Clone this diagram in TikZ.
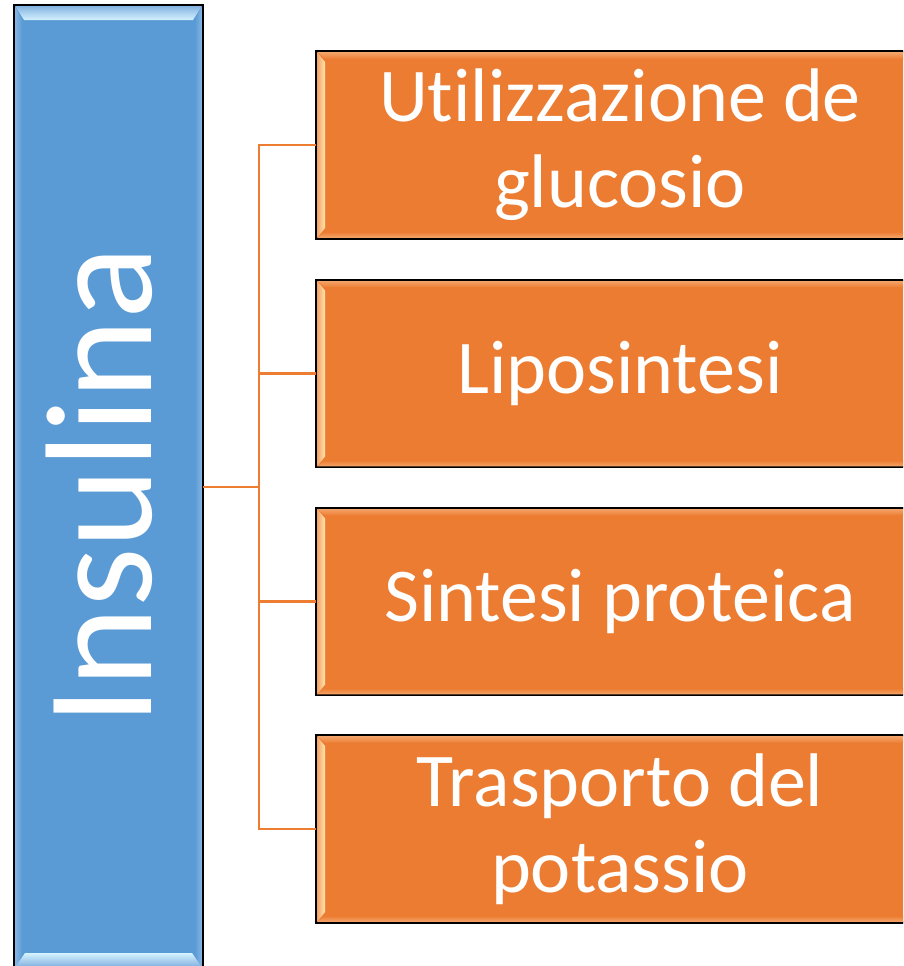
\documentclass[tikz,border=0pt]{standalone}
\usepackage{fontspec}
\setmainfont{Carlito}[Ligatures={NoCommon,NoRare,NoContextual},RawFeature={-liga;-clig;-dlig;-calt}]
\definecolor{insblue}{HTML}{5B9BD5}
\definecolor{insblueL}{HTML}{86B4E1}
\definecolor{insblueH}{HTML}{D6F3FF}
\definecolor{effor}{HTML}{EC7C31}
\definecolor{efforL}{HTML}{F4A56B}
\definecolor{efforH}{HTML}{FFE7AE}
\definecolor{linkor}{HTML}{ED7D31}
\tikzset{
  hormbox/.style={rectangle, fill=insblue, draw=black, line width=1.6pt,
    minimum width=187pt, minimum height=970pt, inner sep=0pt},
  effbox/.style={rectangle, fill=effor, draw=black, line width=1.6pt,
    minimum width=606pt, minimum height=186pt, inner sep=0pt,
    text=white, align=center, font=\fontsize{76}{86}\selectfont},
  hormtext/.style={text=white, font=\fontsize{152}{180}\selectfont, inner sep=0pt},
  linkline/.style={draw=linkor, line width=2.5pt},
  rimline/.style={draw=black, line width=1.6pt}
}
\newcommand{\orbevel}[1]{%
  \shade[left color=efforL, right color=efforH]
    ([xshift=1pt,yshift=-1pt]#1.north west) -- ([xshift=9pt,yshift=-11pt]#1.north west)
    -- ([xshift=9pt,yshift=11pt]#1.south west) -- ([xshift=1pt,yshift=1pt]#1.south west) -- cycle;
  \shade[top color=efforL, bottom color=effor]
    ([xshift=1pt,yshift=-1pt]#1.north west) -- ([yshift=-1pt]#1.north east)
    -- ([yshift=-8pt]#1.north east) -- ([xshift=9pt,yshift=-8pt]#1.north west) -- cycle;
  \shade[top color=effor, bottom color=efforL]
    ([xshift=9pt,yshift=7pt]#1.south west) -- ([yshift=7pt]#1.south east)
    -- ([yshift=1pt]#1.south east) -- ([xshift=1pt,yshift=1pt]#1.south west) -- cycle;
  \draw[rimline] (#1.north west) rectangle (#1.south east);
}
\begin{document}
\begin{tikzpicture}[x=1pt, y=-1pt]
\useasboundingbox (0,0) rectangle (903,966);
\clip (0,0) rectangle (903,966);

% hormone box
\node[hormbox] (ins) at (108.5,491) {};
\shade[top color=insblueL, bottom color=insblueH]
  ([xshift=1pt,yshift=-1pt]ins.north west) -- ([xshift=-1pt,yshift=-1pt]ins.north east)
  -- ([xshift=-10pt,yshift=-15pt]ins.north east) -- ([xshift=10pt,yshift=-15pt]ins.north west) -- cycle;
\shade[left color=insblueL, right color=insblue]
  ([xshift=1pt,yshift=-1pt]ins.north west) -- ([xshift=8pt,yshift=-15pt]ins.north west)
  -- ([xshift=8pt,yshift=25pt]ins.south west) -- ([xshift=1pt,yshift=1pt]ins.south west) -- cycle;
\shade[left color=insblue, right color=insblueL]
  ([xshift=-8pt,yshift=-15pt]ins.north east) -- ([xshift=-1pt,yshift=-1pt]ins.north east)
  -- ([xshift=-1pt,yshift=1pt]ins.south east) -- ([xshift=-8pt,yshift=25pt]ins.south east) -- cycle;
\shade[top color=insblueH, bottom color=insblueL]
  (25,953) -- (192,953) -- (201,966) -- (16,966) -- cycle;
\draw[rimline] (ins.north west) rectangle (ins.south east);
\node[hormtext, rotate=90, anchor=base] (instext) at (151,486) {Insulina};

% effect boxes
\node[effbox] (e1) at (620,145) {Utilizzazione de\\glucosio};
\node[effbox] (e2) at (620,373.5) {Liposintesi};
\node[effbox] (e3) at (620,601.5) {Sintesi proteica};
\node[effbox] (e4) at (620,829) {Trasporto del\\potassio};
\orbevel{e1}
\orbevel{e2}
\orbevel{e3}
\orbevel{e4}

% connectors
\coordinate (hub) at (259,487);
\draw[linkline] (ins.east |- hub) -- (hub);
\draw[linkline] (hub) |- (e1.west);
\draw[linkline] (hub) |- (e2.west);
\draw[linkline] (hub) |- (e3.west);
\draw[linkline] (hub) |- (e4.west);
\end{tikzpicture}
\end{document}
